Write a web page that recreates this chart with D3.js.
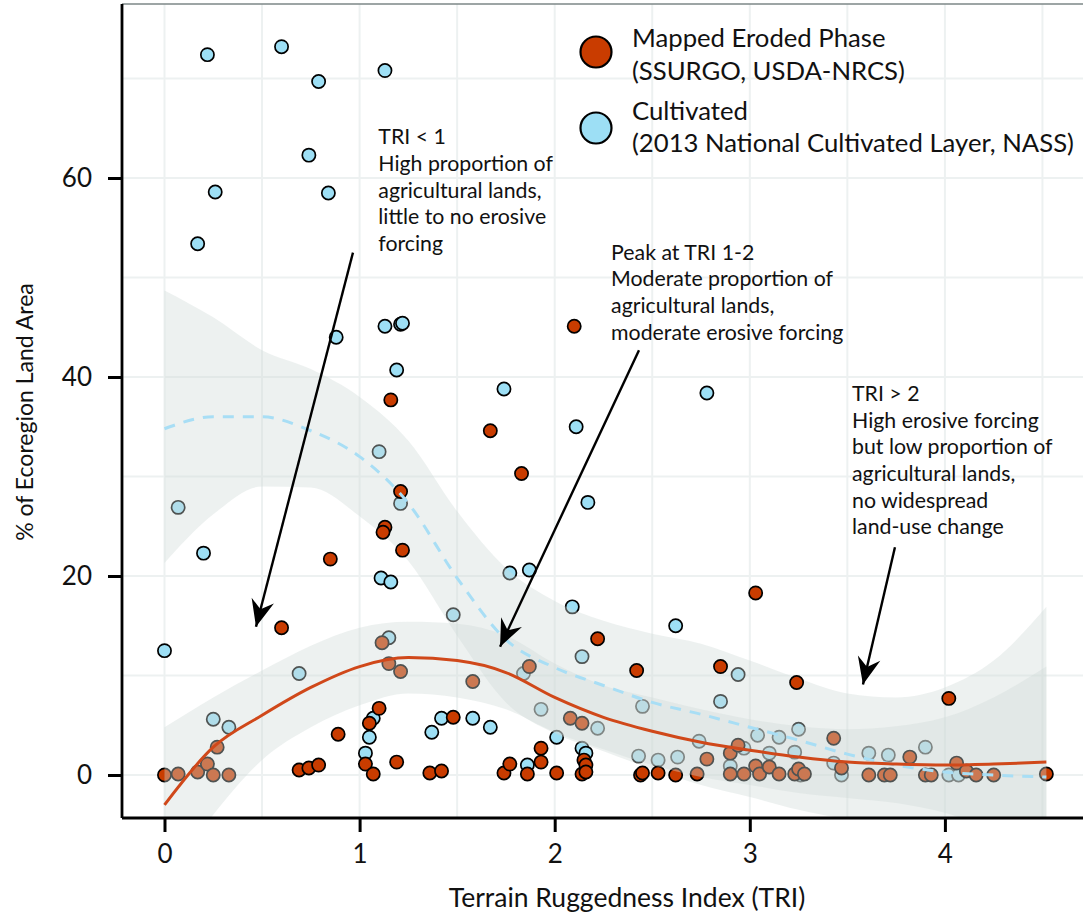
<!DOCTYPE html>
<html>
<head>
<meta charset="utf-8">
<script src="https://cdn.jsdelivr.net/npm/d3@7"></script>
<style>
  html, body { margin: 0; padding: 0; background: #fff; }
  svg { display: block; font-family: Lato, "Open Sans", sans-serif; }
</style>
</head>
<body>
<svg id="chart" width="1083" height="913"></svg>
<script>
// Mapped eroded phase (SSURGO) per ecoregion: TRI vs % of land area
const erodedTRI = [0.00, 0.07, 0.17, 0.22, 0.25, 0.27, 0.33, 0.60, 0.69, 0.74, 0.79, 0.85, 0.89,
  1.03, 1.05, 1.07, 1.10, 1.115, 1.13, 1.12, 1.15, 1.16, 1.19, 1.21, 1.21, 1.22, 1.36, 1.42, 1.48,
  1.58, 1.67, 1.74, 1.77, 1.83, 1.86, 1.87, 1.93, 1.93, 2.01, 2.08, 2.10, 2.14, 2.14, 2.15, 2.16,
  2.16, 2.22, 2.42, 2.44, 2.45, 2.53, 2.62, 2.73, 2.78, 2.85, 2.90, 2.90, 2.94, 2.97, 3.03, 3.03,
  3.05, 3.10, 3.15, 3.23, 3.24, 3.25, 3.28, 3.43, 3.47, 3.61, 3.69, 3.72, 3.82, 3.90, 3.93, 4.02,
  4.06, 4.11, 4.16, 4.25, 4.52];
const erodedPct = [0.0, 0.1, 0.3, 1.1, 0.0, 2.8, 0.0, 14.8, 0.5, 0.7, 1.0, 21.7, 4.1,
  1.1, 5.2, 0.1, 6.7, 13.3, 24.9, 24.4, 11.2, 37.7, 1.3, 10.4, 28.5, 22.6, 0.2, 0.4, 5.8,
  9.4, 34.6, 0.2, 1.1, 30.3, 0.1, 10.9, 2.7, 1.3, 0.2, 5.7, 45.1, 5.2, 0.1, 1.5, 1.0,
  0.3, 13.7, 10.5, 0.0, 0.2, 0.2, 0.0, 0.1, 1.6, 10.9, 2.2, 0.1, 3.0, 0.1, 18.3, 0.9,
  0.1, 0.8, 0.1, 0.1, 9.3, 0.6, 0.1, 3.7, 0.7, 0.0, 0.0, 0.0, 1.8, 0.0, 0.0, 7.7,
  1.2, 0.4, 0.0, 0.0, 0.1];

// Cultivated land (2013 National Cultivated Layer) per ecoregion
const cultivatedTRI = [0.00, 0.07, 0.17, 0.20, 0.22, 0.25, 0.26, 0.33, 0.60, 0.69, 0.74, 0.79, 0.84,
  0.88, 1.03, 1.05, 1.07, 1.10, 1.11, 1.13, 1.13, 1.15, 1.16, 1.19, 1.21, 1.22, 1.21, 1.37, 1.42,
  1.48, 1.58, 1.67, 1.74, 1.77, 1.84, 1.86, 1.87, 1.93, 2.01, 2.09, 2.11, 2.14, 2.14, 2.16, 2.17,
  2.22, 2.43, 2.45, 2.53, 2.62, 2.63, 2.74, 2.78, 2.85, 2.90, 2.94, 2.97, 3.04, 3.10, 3.15, 3.23,
  3.25, 3.26, 3.43, 3.47, 3.61, 3.71, 3.90, 4.02, 4.07];
const cultivatedPct = [12.5, 26.9, 53.4, 22.3, 72.4, 5.6, 58.6, 4.8, 73.2, 10.2, 62.3, 69.7, 58.5,
  44.0, 2.2, 3.8, 5.7, 32.5, 19.8, 45.1, 70.8, 13.8, 19.4, 40.7, 45.3, 45.4, 27.3, 4.3, 5.7,
  16.1, 5.7, 4.8, 38.8, 20.3, 10.2, 1.0, 20.6, 6.6, 3.8, 16.9, 35.0, 11.9, 2.7, 2.2, 27.4,
  4.7, 1.9, 6.9, 1.5, 15.0, 1.8, 3.4, 38.4, 7.4, 0.9, 10.1, 2.7, 4.0, 2.2, 3.8, 2.3,
  4.6, 0.0, 1.2, 0.0, 2.2, 2.0, 2.8, 0.0, 0.0];

// Smoothed trends with confidence bands, sampled along TRI
const fitTRI = [0, 0.25, 0.5, 0.75, 1.0, 1.25, 1.5, 1.75, 2.0, 2.25, 2.5, 2.75, 3.0, 3.25, 3.5, 3.75, 4.0, 4.25, 4.52];
const erodedFit   = [-3.0, 2.8, 6.0, 8.8, 10.9, 11.8, 11.5, 10.3, 7.8, 5.8, 4.4, 3.3, 2.5, 1.8, 1.3, 1.1, 1.0, 1.1, 1.3];
const erodedLower = [-11, -4.0, 1.5, 4.8, 7.0, 8.2, 7.8, 6.6, 4.3, 2.6, 1.0, -0.2, -1.0, -1.8, -2.3, -2.8, -3.8, -5.6, -8.5];
const erodedUpper = [4.8, 7.8, 10.5, 13.0, 14.8, 15.4, 15.2, 14.0, 11.2, 9.0, 7.8, 6.6, 5.6, 4.9, 4.6, 4.9, 5.8, 7.8, 10.9];
const cultivatedFit   = [34.8, 36.0, 36.0, 34.6, 32.0, 27.3, 19.8, 13.6, 10.8, 9.0, 7.3, 6.1, 4.8, 3.5, 2.1, 1.0, 0.3, 0.0, -0.2];
const cultivatedLower = [21.3, 26.2, 29.0, 28.9, 26.0, 21.5, 14.0, 7.3, 4.2, 2.4, 0.6, -1.0, -2.2, -3.5, -4.5, -5.5, -7, -9, -12];
const cultivatedUpper = [48.7, 46.0, 42.7, 40.8, 38.0, 33.6, 26.5, 20.8, 17.5, 15.5, 14.2, 13.2, 11.5, 9.7, 8.2, 7.8, 8.8, 11.5, 16.9];

const xTicks = [0, 1, 2, 3, 4];
const yTicks = [0, 20, 40, 60];
const xGrid = [0, 0.5, 1, 1.5, 2, 2.5, 3, 3.5, 4, 4.5];
const yGrid = [0, 10, 20, 30, 40, 50, 60, 70];

const legendLabels = [
  ["Mapped Eroded Phase", "(SSURGO, USDA-NRCS)"],
  ["Cultivated", "(2013 National Cultivated Layer, NASS)"]
];

// Callouts: text anchor and arrow in data units
const notes = [
  { lines: ["TRI < 1", "High proportion of", "agricultural lands,", "little to no erosive", "forcing"],
    at: [1.096, 63.4], from: [0.966, 52.5], to: [0.469, 14.9] },
  { lines: ["Peak at TRI 1-2", "Moderate proportion of", "agricultural lands,", "moderate erosive forcing"],
    at: [2.289, 51.8], from: [2.432, 42.7], to: [1.72, 12.9] },
  { lines: ["TRI > 2", "High erosive forcing", "but low proportion of", "agricultural lands,", "no widespread", "land-use change"],
    at: [3.524, 37.6], from: [3.744, 22.9], to: [3.58, 9.1] }
];

const RED = "#c93c00", BLUE = "#9ddff5";
const RED_LINE = "#d0481a", BLUE_LINE = "#a8def5";
const BAND = "#d0dbd8", BAND_OPACITY = 0.38;

const svg = d3.select("#chart");
const panel = { left: 122, top: 4, right: 1083, bottom: 818 };

const x = d3.scaleLinear().domain([-0.2178, 4.7078]).range([panel.left, panel.right]);
const y = d3.scaleLinear().domain([-4.32, 77.49]).range([panel.bottom, panel.top]);

svg.append("defs").append("clipPath").attr("id", "panel-clip")
  .append("rect")
  .attr("x", panel.left).attr("y", panel.top)
  .attr("width", panel.right - panel.left).attr("height", panel.bottom - panel.top);

// grid
const grid = svg.append("g").attr("stroke", "#edf1f1").attr("stroke-width", 2);
grid.selectAll("line.v").data(xGrid).join("line").attr("class", "v")
  .attr("x1", d => x(d)).attr("x2", d => x(d))
  .attr("y1", panel.top).attr("y2", panel.bottom);
grid.selectAll("line.h").data(yGrid).join("line").attr("class", "h")
  .attr("x1", panel.left).attr("x2", panel.right)
  .attr("y1", d => y(d)).attr("y2", d => y(d));

const plot = svg.append("g").attr("clip-path", "url(#panel-clip)");

const eroded = erodedTRI.map((t, i) => ({ t, v: erodedPct[i] }));
const cultivated = cultivatedTRI.map((t, i) => ({ t, v: cultivatedPct[i] }));
const band = (lo, hi) => fitTRI.map((t, i) => ({ t, lo: lo[i], hi: hi[i] }));
const curve = vals => fitTRI.map((t, i) => ({ t, v: vals[i] }));

const area = d3.area().curve(d3.curveMonotoneX)
  .x(d => x(d.t)).y0(d => y(d.lo)).y1(d => y(d.hi));
const line = d3.line().curve(d3.curveMonotoneX)
  .x(d => x(d.t)).y(d => y(d.v));

function dots(data, fill) {
  plot.append("g").selectAll("circle").data(data).join("circle")
    .attr("cx", d => x(d.t)).attr("cy", d => y(d.v)).attr("r", 6.6)
    .attr("fill", fill).attr("stroke", "#000").attr("stroke-width", 1.7);
}

// cultivated layer: points, then its band
dots(cultivated, BLUE);
plot.append("path").datum(band(cultivatedLower, cultivatedUpper))
  .attr("d", area).attr("fill", BAND).attr("fill-opacity", BAND_OPACITY);

// eroded layer: points, then its band
dots(eroded, RED);
plot.append("path").datum(band(erodedLower, erodedUpper))
  .attr("d", area).attr("fill", BAND).attr("fill-opacity", BAND_OPACITY);

// trend lines
plot.append("path").datum(curve(cultivatedFit)).attr("d", line)
  .attr("fill", "none").attr("stroke", BLUE_LINE).attr("stroke-width", 3)
  .attr("stroke-dasharray", "11,9");
plot.append("path").datum(curve(erodedFit)).attr("d", line)
  .attr("fill", "none").attr("stroke", RED_LINE).attr("stroke-width", 3);

// panel top border
svg.append("line").attr("x1", panel.left).attr("x2", panel.right)
  .attr("y1", panel.top).attr("y2", panel.top)
  .attr("stroke", "#7d8787").attr("stroke-width", 1.4);

// axes
const yAxis = svg.append("g").attr("transform", `translate(${panel.left},0)`)
  .call(d3.axisLeft(y).tickValues(yTicks).tickFormat(d3.format("d"))
    .tickSize(14).tickPadding(16).tickSizeOuter(0));
const xAxis = svg.append("g").attr("transform", `translate(0,${panel.bottom})`)
  .call(d3.axisBottom(x).tickValues(xTicks).tickFormat(d3.format("d"))
    .tickSize(14).tickPadding(13).tickSizeOuter(0));
[yAxis, xAxis].forEach(ax => {
  ax.select(".domain").attr("stroke", "#000").attr("stroke-width", 2.8);
  ax.selectAll(".tick line").attr("stroke", "#000").attr("stroke-width", 3);
  ax.selectAll(".tick text").attr("fill", "#111").style("font-size", "26px")
    .style("font-family", "Lato, 'Open Sans', sans-serif");
});
yAxis.select(".domain").attr("d", `M0,${panel.top}V${panel.bottom}`);
xAxis.select(".domain").attr("d", `M${panel.left},0H${panel.right}`);

// axis titles
svg.append("text").attr("x", 627).attr("y", 907).attr("text-anchor", "middle")
  .attr("fill", "#111").style("font-size", "26.5px").text("Terrain Ruggedness Index (TRI)");
svg.append("text").attr("transform", "translate(33,412) rotate(-90)").attr("text-anchor", "middle")
  .attr("fill", "#111").style("font-size", "23px").text("% of Ecoregion Land Area");

// callouts
svg.append("defs").append("marker").attr("id", "head")
  .attr("viewBox", "-28 -13 30 26").attr("refX", 0).attr("refY", 0)
  .attr("markerWidth", 30).attr("markerHeight", 26).attr("markerUnits", "userSpaceOnUse")
  .attr("orient", "auto")
  .append("path").attr("d", "M0,0 L-27,-11.5 L-18,0 L-27,11.5 Z").attr("fill", "#000");

const noteG = svg.append("g");
notes.forEach(n => {
  const t = noteG.append("text").attr("x", x(n.at[0])).attr("y", y(n.at[1]))
    .attr("fill", "#111").style("font-size", "21.3px");
  n.lines.forEach((s, i) => {
    t.append("tspan").attr("x", x(n.at[0])).attr("dy", i === 0 ? 0 : 26.7).text(s);
  });
  noteG.append("line")
    .attr("x1", x(n.from[0])).attr("y1", y(n.from[1]))
    .attr("x2", x(n.to[0])).attr("y2", y(n.to[1]))
    .attr("stroke", "#000").attr("stroke-width", 2.4)
    .attr("marker-end", "url(#head)");
});

// legend
const legend = svg.append("g");
const legendFill = [RED, BLUE];
const legendY = [52, 128];
const legendBase = [[47, 79.5], [119.5, 152]];
legendLabels.forEach((lines, i) => {
  legend.append("circle").attr("cx", 596).attr("cy", legendY[i]).attr("r", 15.5)
    .attr("fill", legendFill[i]).attr("stroke", "#000").attr("stroke-width", 2.2);
  lines.forEach((s, j) => {
    legend.append("text").attr("x", 632).attr("y", legendBase[i][j])
      .attr("fill", "#111").style("font-size", "25.7px").text(s);
  });
});
</script>
</body>
</html>
